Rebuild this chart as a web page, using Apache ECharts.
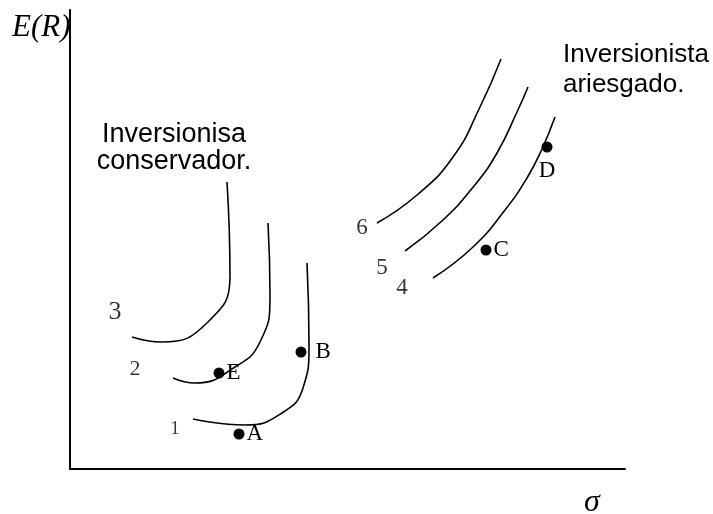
<!DOCTYPE html>
<html>
<head>
<meta charset="utf-8">
<script src="https://cdn.jsdelivr.net/npm/echarts@6/dist/echarts.min.js"></script>
<style>html,body{margin:0;padding:0;background:#fff}#c{width:713px;height:514px}</style>
</head>
<body>
<div id="c"></div>
<script>
// Indifference curves (sigma, E(R)) in arbitrary units
var curve1 = [[123,47],[175,41],[212,53],[233,78],[239,120],[237,203]];
var curve2 = [[103,88],[125,83],[165,99],[190,124],[200,170],[198,243]];
var curve3 = [[62,129],[92,124],[138,144],[160,190],[157,284]];
var curve4 = [[363,188],[403,219],[435,256],[457,288],[472,317],[485,349]];
var curve5 = [[335,215],[373,246],[404,280],[427,313],[447,354],[458,379]];
var curve6 = [[307,243],[347,271],[383,309],[410,359],[431,407]];
// Portfolios
var pointNames = ['A','B','C','D','E'];
var pointValues = [[169,32],[231,114],[416,216],[477,319],[149,93]];
// Curve number labels
var curveNames = ['1','2','3','4','5','6'];
var curveLabelPos = [[105,37],[65,97],[45,154],[332,178],[312,198],[292,238]];
var curveLabelSizes = [18,22,26,23,23,23];

var chart = echarts.init(document.getElementById('c'));
var lineStyle = {color:'#000', width:1.6};
function curveSeries(d){
  return {type:'line', data:d, smooth:0.5, showSymbol:false, symbol:'none', lineStyle:lineStyle, silent:true, animation:false};
}
var serif = '"Liberation Serif","Times New Roman",serif';
var sans = '"Liberation Sans",Arial,sans-serif';
chart.setOption({
  animation:false,
  grid:{left:70, top:10, width:555, height:459},
  xAxis:{type:'value', min:0, max:555, axisLine:{show:true, onZero:false, lineStyle:{color:'#000', width:2}}, axisTick:{show:false}, axisLabel:{show:false}, splitLine:{show:false}},
  yAxis:{type:'value', min:-3, max:456, axisLine:{show:true, onZero:false, lineStyle:{color:'#000', width:2}}, axisTick:{show:false}, axisLabel:{show:false}, splitLine:{show:false}},
  series:[
    curveSeries(curve1), curveSeries(curve2), curveSeries(curve3),
    curveSeries(curve4), curveSeries(curve5), curveSeries(curve6),
    {type:'scatter', symbolSize:11, itemStyle:{color:'#000', opacity:1},
     data: pointValues.map(function(v,i){
       var n = pointNames[i];
       return {value:v, name:n, label:{position: n==='D' ? 'bottom' : 'right', distance: n==='D' ? 7 : (n==='B' ? 9 : 2)}};
     }),
     label:{show:true, formatter:'{b}', color:'#000', fontFamily:serif, fontSize:23, textBorderWidth:0}},
    {type:'scatter', symbolSize:0, silent:true,
     data: curveLabelPos.map(function(v,i){
       return {value:v, name:curveNames[i], label:{fontSize:curveLabelSizes[i]}};
     }),
     label:{show:true, position:'inside', formatter:'{b}', color:'#000', fontFamily:serif, textBorderWidth:0}}
  ],
  graphic:[
    {type:'text', left:12, top:12, style:{text:'E(R)', font:'italic 31px '+serif, fill:'#000'}},
    {type:'text', x:584, y:487, style:{text:'σ', font:'italic 32px '+serif, fill:'#000', verticalAlign:'top'}},
    {type:'text', x:174, y:121, style:{text:'Inversionisa', font:'27px '+sans, fill:'#000', align:'center', verticalAlign:'top'}},
    {type:'text', x:174, y:148, style:{text:'conservador.', font:'27px '+sans, fill:'#000', align:'center', verticalAlign:'top'}},
    {type:'text', x:563, y:42, style:{text:'Inversionista', font:'26px '+sans, fill:'#000', align:'left', verticalAlign:'top'}},
    {type:'text', x:563, y:72, style:{text:'ariesgado.', font:'26px '+sans, fill:'#000', align:'left', verticalAlign:'top'}}
  ]
});
</script>
</body>
</html>
